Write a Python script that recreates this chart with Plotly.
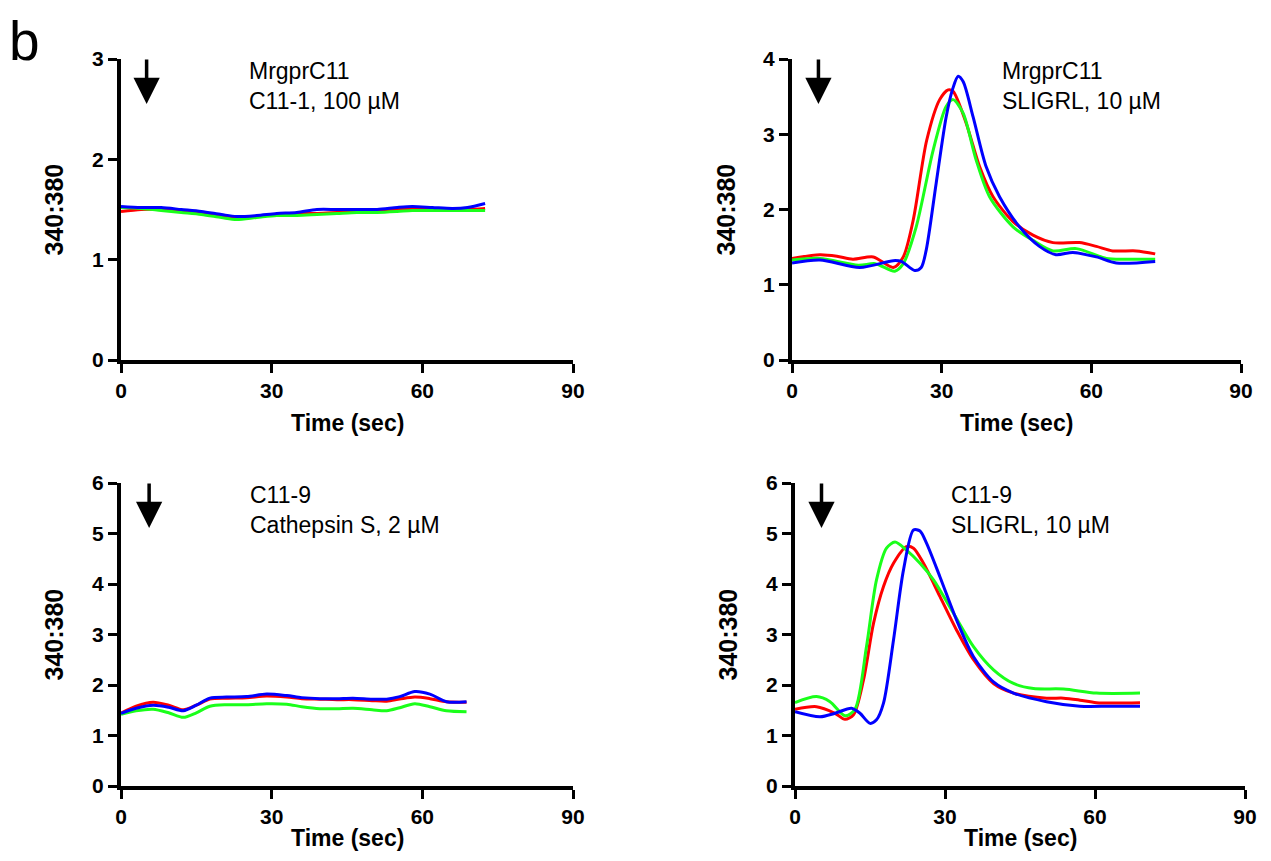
import plotly.graph_objects as go

# page has an 8px body margin, so the figure is sized to fit inside it
PAD = 8
W, H = 1271 - 2 * PAD, 861 - 2 * PAD

# panel 1: MrgprC11, C11-1 100 uM
p1_t = [0, 4, 8, 12, 16, 20, 23, 27, 31, 35, 39, 43, 47, 51, 55, 58, 62, 66, 69, 72.5]
p1_red = [1.48, 1.50, 1.50, 1.48, 1.46, 1.44, 1.42, 1.43, 1.45, 1.46, 1.46, 1.47, 1.48, 1.48, 1.50, 1.51, 1.50, 1.50, 1.50, 1.51]
p1_green = [1.52, 1.51, 1.49, 1.47, 1.45, 1.42, 1.40, 1.42, 1.44, 1.44, 1.45, 1.46, 1.47, 1.47, 1.48, 1.49, 1.49, 1.49, 1.49, 1.49]
p1_blue = [1.53, 1.52, 1.52, 1.50, 1.48, 1.45, 1.43, 1.44, 1.46, 1.47, 1.50, 1.50, 1.50, 1.50, 1.52, 1.53, 1.52, 1.51, 1.52, 1.56]

# panel 2: MrgprC11, SLIGRL 10 uM
p2_red_t = [0, 5.6, 9, 12.2, 16.3, 20.3, 22.3, 24.3, 27, 29.6, 31.3, 32.3, 34.9, 37.6, 40.3, 44.3, 48.3, 52.3, 57.6, 61, 64.3, 69, 72.8]
p2_red = [1.35, 1.40, 1.38, 1.34, 1.37, 1.23, 1.37, 1.86, 2.92, 3.46, 3.59, 3.57, 3.15, 2.57, 2.17, 1.84, 1.66, 1.56, 1.56, 1.51, 1.45, 1.45, 1.41]
p2_green_t = [0, 5.6, 13.3, 16.7, 20.6, 22.3, 24.9, 28.3, 30.9, 32.3, 34.3, 36.9, 39.6, 44.3, 48.3, 52.3, 57, 63, 67, 72.8]
p2_green = [1.33, 1.35, 1.26, 1.28, 1.18, 1.28, 1.77, 2.79, 3.37, 3.46, 3.28, 2.66, 2.17, 1.77, 1.59, 1.45, 1.48, 1.35, 1.34, 1.34]
p2_blue_t = [0, 5.6, 13.6, 20.3, 21.9, 24.6, 25.9, 26.9, 28.9, 30.9, 32.2, 33.3, 34.3, 36.3, 38.9, 41.6, 45.6, 49.6, 52.9, 56.3, 61, 65, 72.8]
p2_blue = [1.29, 1.33, 1.23, 1.32, 1.31, 1.19, 1.23, 1.46, 2.35, 3.23, 3.60, 3.77, 3.70, 3.23, 2.57, 2.17, 1.77, 1.51, 1.40, 1.43, 1.37, 1.29, 1.31]

# panel 3: C11-9, Cathepsin S 2 uM
p3_t = [0, 3, 6.4, 9.5, 12.4, 15, 17.7, 21, 25, 29, 33, 36, 39.6, 43, 46.2, 50, 52.9, 55.5, 58.5, 61.5, 64.8, 68.8]
p3_red = [1.44, 1.58, 1.66, 1.60, 1.51, 1.60, 1.72, 1.74, 1.75, 1.78, 1.76, 1.73, 1.72, 1.71, 1.71, 1.69, 1.68, 1.72, 1.76, 1.73, 1.67, 1.66]
p3_green = [1.42, 1.49, 1.52, 1.45, 1.36, 1.45, 1.58, 1.61, 1.61, 1.63, 1.62, 1.57, 1.53, 1.53, 1.54, 1.51, 1.49, 1.55, 1.63, 1.57, 1.49, 1.47]
p3_blue = [1.44, 1.54, 1.60, 1.56, 1.49, 1.60, 1.74, 1.76, 1.77, 1.82, 1.79, 1.75, 1.73, 1.73, 1.74, 1.72, 1.72, 1.77, 1.87, 1.82, 1.67, 1.67]

# panel 4: C11-9, SLIGRL 10 uM
p4_red_t = [0, 4.3, 8, 10, 11.7, 13.7, 15.7, 17.7, 19.7, 22.3, 23.7, 25.7, 29, 32.3, 35.7, 39.7, 43.7, 50.3, 53.7, 57, 60.3, 69]
p4_red = [1.52, 1.57, 1.44, 1.32, 1.41, 2.10, 3.22, 3.95, 4.41, 4.74, 4.71, 4.41, 3.75, 3.09, 2.50, 2.03, 1.84, 1.74, 1.74, 1.70, 1.65, 1.65]
p4_green_t = [0, 4.3, 7, 10, 12, 14.3, 16.3, 18.3, 20, 22.3, 25, 27.7, 31.7, 35.7, 39.7, 43.7, 47.7, 53.7, 60.3, 69]
p4_green = [1.65, 1.77, 1.67, 1.39, 1.52, 2.76, 4.08, 4.71, 4.83, 4.67, 4.41, 4.08, 3.42, 2.76, 2.30, 2.03, 1.93, 1.92, 1.84, 1.84]
p4_blue_t = [0, 5, 8, 11.3, 13, 15, 16.3, 17.7, 19.7, 21.7, 23.7, 25, 26.3, 29, 32.3, 35.7, 39.7, 43.7, 50.3, 57, 63, 69]
p4_blue = [1.47, 1.37, 1.44, 1.54, 1.44, 1.24, 1.31, 1.64, 2.89, 4.28, 5.07, 5.05, 4.81, 4.14, 3.29, 2.56, 2.06, 1.84, 1.67, 1.58, 1.58, 1.58]

x_ticks = [0, 30, 60, 90]
labels = ["MrgprC11<br>C11-1, 100 µM", "MrgprC11<br>SLIGRL, 10 µM",
          "C11-9<br>Cathepsin S, 2 µM", "C11-9<br>SLIGRL, 10 µM"]
y_max = [3, 4, 6, 6]

# pixel boxes of the four panels in the window: (left, right, top, bottom)
boxes = [(121, 573, 59, 360), (792, 1241, 59, 360),
         (121, 573, 483, 786), (795, 1245, 483, 786)]
arrow_x = [5.1, 5.3, 5.6, 5.3]
text_x = [25.1, 41.6, 25.3, 30.8]
ylab_x = [53, 725, 53, 727]

RED, GREEN, BLUE = "#ff0000", "#1aff1a", "#0000ff"
FONT = "Liberation Sans, Arial, sans-serif"

series = [
    [(p1_t, p1_red, RED), (p1_t, p1_green, GREEN), (p1_t, p1_blue, BLUE)],
    [(p2_red_t, p2_red, RED), (p2_green_t, p2_green, GREEN), (p2_blue_t, p2_blue, BLUE)],
    [(p3_t, p3_red, RED), (p3_t, p3_green, GREEN), (p3_t, p3_blue, BLUE)],
    [(p4_red_t, p4_red, RED), (p4_green_t, p4_green, GREEN), (p4_blue_t, p4_blue, BLUE)],
]

fig = go.Figure()
annotations = []


def px(x):
    return (x - PAD) / W


def py(y):
    return 1 - (y - PAD) / H


for i, (box, lines) in enumerate(zip(boxes, series)):
    n = "" if i == 0 else str(i + 1)
    xa, ya = "x" + n, "y" + n
    for t, v, c in lines:
        fig.add_trace(go.Scatter(x=t, y=v, mode="lines", xaxis=xa, yaxis=ya,
                                 line=dict(color=c, width=3, shape="spline", smoothing=0.8),
                                 showlegend=False, hoverinfo="skip"))

    left, right, top, bottom = box
    axis_common = dict(showline=True, linecolor="black", linewidth=4,
                       ticks="outside", ticklen=9, tickwidth=3, tickcolor="black",
                       showgrid=False, zeroline=False, automargin=False,
                       tickfont=dict(family=FONT, size=21, color="black", weight="bold"))
    fig.update_layout(**{
        "xaxis" + n: dict(domain=[px(left), px(right)], range=[0, 90], tickvals=x_ticks,
                          anchor=ya, **axis_common),
        "yaxis" + n: dict(domain=[py(bottom), py(top)], range=[0, y_max[i]], dtick=1,
                          anchor=xa, **axis_common),
    })

    unit = (bottom - top) / y_max[i]
    tip = (bottom - (top + 45)) / unit
    annotations.append(dict(x=arrow_x[i], y=tip, xref=xa, yref=ya, ax=0, ay=-46,
                            text="", showarrow=True, arrowhead=2, arrowsize=1.5,
                            arrowwidth=3.5, arrowcolor="black"))
    mid = (bottom - (top + 27)) / unit
    annotations.append(dict(x=text_x[i], y=mid, xref=xa, yref=ya, text=labels[i],
                            showarrow=False, xanchor="left", yanchor="middle", align="left",
                            font=dict(family=FONT, size=23, color="black")))

    # x title; the lower row sits on the figure's bottom edge so it isn't clipped
    if i < 2:
        title_y, title_anchor = py(bottom + 63), "middle"
    else:
        title_y, title_anchor = 0, "bottom"
    annotations.append(dict(x=px((left + right) / 2), y=title_y, xref="paper", yref="paper",
                            text="Time (sec)", showarrow=False, xanchor="center", yanchor=title_anchor,
                            font=dict(family=FONT, size=23, color="black", weight="bold")))
    annotations.append(dict(x=px(ylab_x[i]), y=py((top + bottom) / 2), xref="paper", yref="paper",
                            text="340:380", showarrow=False, textangle=-90,
                            xanchor="center", yanchor="middle",
                            font=dict(family=FONT, size=25, color="black", weight="bold")))

annotations.append(dict(x=px(7), y=1, xref="paper", yref="paper", text="b",
                        showarrow=False, xanchor="left", yanchor="top",
                        font=dict(family=FONT, size=55, color="black")))

fig.update_layout(width=W, height=H, margin=dict(l=0, r=0, t=0, b=0),
                  paper_bgcolor="white", plot_bgcolor="white",
                  annotations=annotations)

fig.write_html("out.html")
